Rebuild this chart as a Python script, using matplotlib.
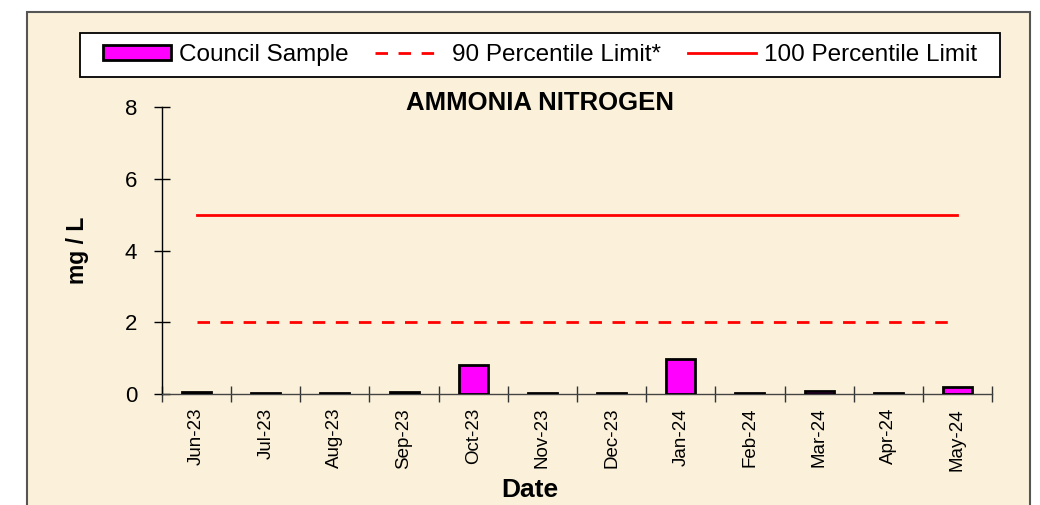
import matplotlib
matplotlib.use("Agg")
import matplotlib.pyplot as plt
from matplotlib.patches import Rectangle, Patch
from matplotlib.lines import Line2D

plt.rcParams["font.family"] = ["Liberation Sans", "DejaVu Sans"]

months = ["Jun-23", "Jul-23", "Aug-23", "Sep-23", "Oct-23", "Nov-23",
          "Dec-23", "Jan-24", "Feb-24", "Mar-24", "Apr-24", "May-24"]
council_sample = [0.06, 0.04, 0.04, 0.05, 0.82, 0.02,
                  0.04, 0.98, 0.04, 0.09, 0.04, 0.19]
limit_90 = 2.0
limit_100 = 5.0

W, H = 1040, 505
fig = plt.figure(figsize=(W / 100, H / 100), dpi=100)
fig.patch.set_facecolor("white")

# beige panel behind the chart (runs off the bottom edge)
panel = Rectangle((27 / W, -0.05), (1030 - 27) / W, 1.05 - 12 / H,
                  transform=fig.transFigure, facecolor="#FBF1DA",
                  edgecolor="#555555", lw=1.5, zorder=-5)
fig.patches.append(panel)

# legend box
legbox = Rectangle((80 / W, 1 - 77 / H), 920 / W, 44 / H,
                   transform=fig.transFigure, facecolor="white",
                   edgecolor="black", lw=1.3, zorder=-4)
fig.patches.append(legbox)

ax = fig.add_axes([162 / W, 1 - 394 / H, (992 - 162) / W, (394 - 107) / H])
ax.set_facecolor("none")

DASH = (4.5, 3.8)
x = list(range(len(months)))
ax.bar(x, council_sample, width=0.42, color="#FF00FF", edgecolor="black",
       lw=2, zorder=3)
ax.plot([x[0], x[-1]], [limit_90, limit_90], color="#FF0000", lw=2,
        dashes=DASH, zorder=2)
ax.plot([x[0], x[-1]], [limit_100, limit_100], color="#FF0000", lw=2,
        zorder=2)

ax.set_xlim(-0.5, len(months) - 0.5)
ax.set_ylim(0, 8)
ax.set_yticks([0, 2, 4, 6, 8])
ax.tick_params(axis="y", direction="inout", length=12, width=1,
               labelsize=16, pad=12)
ax.set_xticks(x)
ax.set_xticklabels(months, rotation=90, fontsize=13.5)
ax.tick_params(axis="x", which="major", length=0, pad=10)
ax.set_xticks([i - 0.5 for i in range(len(months) + 1)], minor=True)
ax.tick_params(axis="x", which="minor", direction="inout", length=12,
               width=1, color="#333333")

for s in ("top", "right"):
    ax.spines[s].set_visible(False)
ax.spines["left"].set_linewidth(1)
ax.spines["bottom"].set_linewidth(1)
ax.spines["bottom"].set_color("#444444")

ax.set_ylabel("mg / L", fontsize=16.5, fontweight="bold", labelpad=26)
fig.text(540 / W, 1 - 103 / H, "AMMONIA NITROGEN", ha="center",
         va="center", fontsize=18.5, fontweight="bold")
fig.text(530 / W, 1 - 490 / H, "Date", ha="center", va="center",
         fontsize=19, fontweight="bold")

handles = [
    Patch(facecolor="#FF00FF", edgecolor="black", lw=2),
    Line2D([], [], color="#FF0000", lw=2, dashes=DASH),
    Line2D([], [], color="#FF0000", lw=2),
]
labels = ["Council Sample", "90 Percentile Limit*", "100 Percentile Limit"]
leg = fig.legend(handles, labels, ncol=3, loc="center",
                 bbox_to_anchor=(540 / W, 1 - 55 / H),
                 fontsize=17.5, frameon=False,
                 handlelength=2.8, handleheight=0.6, handletextpad=0.35,
                 columnspacing=1.1, borderpad=0.2, borderaxespad=0)

fig.savefig("out.png", dpi=100)
